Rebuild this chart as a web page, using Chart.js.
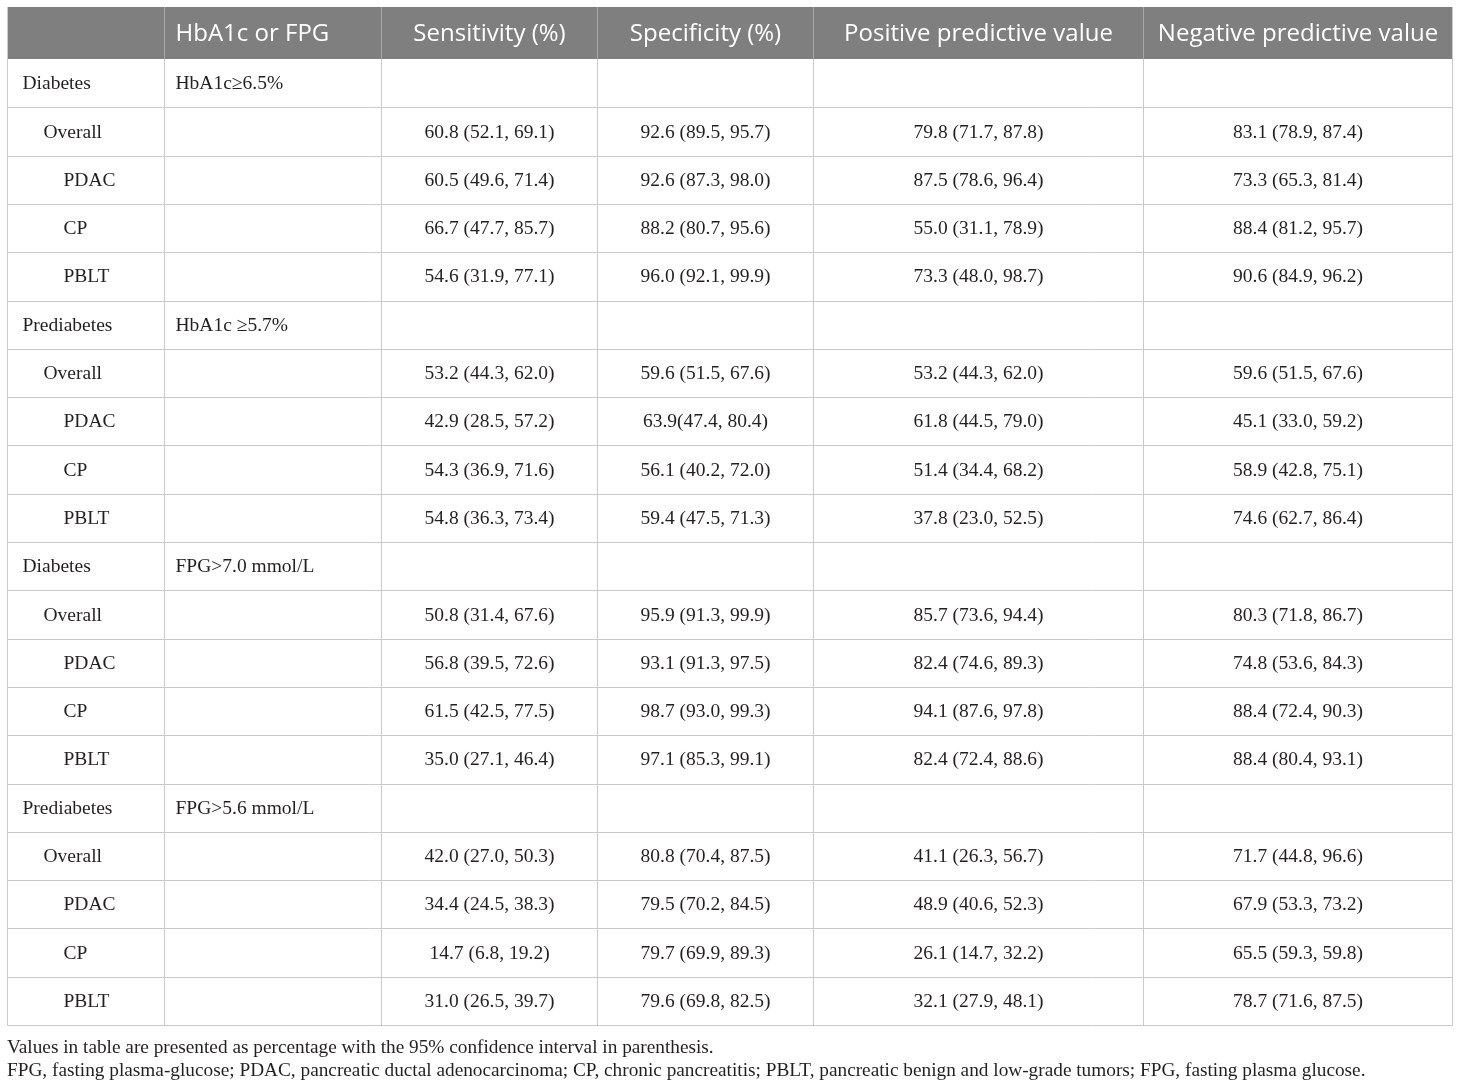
<!DOCTYPE html>
<html>
<head>
<meta charset="utf-8">
<script src="https://cdn.jsdelivr.net/npm/chart.js@4.4.0/dist/chart.umd.min.js"></script>
<style>
  html, body { margin: 0; padding: 0; background: #fff; }
  canvas { display: block; }
</style>
</head>
<body>
<canvas id="tbl" width="1460" height="1087"></canvas>
<script>
// table content
const headers = ["", "HbA1c or FPG", "Sensitivity (%)", "Specificity (%)", "Positive predictive value", "Negative predictive value"];
const groups = ["Diabetes", "Prediabetes", "Diabetes", "Prediabetes"];
const criteria = ["HbA1c\u22656.5%", "HbA1c \u22655.7%", "FPG>7.0 mmol/L", "FPG>5.6 mmol/L"];
const subgroups = ["Overall", "PDAC", "CP", "PBLT"];

const sensitivity = [
  "60.8 (52.1, 69.1)", "60.5 (49.6, 71.4)", "66.7 (47.7, 85.7)", "54.6 (31.9, 77.1)",
  "53.2 (44.3, 62.0)", "42.9 (28.5, 57.2)", "54.3 (36.9, 71.6)", "54.8 (36.3, 73.4)",
  "50.8 (31.4, 67.6)", "56.8 (39.5, 72.6)", "61.5 (42.5, 77.5)", "35.0 (27.1, 46.4)",
  "42.0 (27.0, 50.3)", "34.4 (24.5, 38.3)", "14.7 (6.8, 19.2)", "31.0 (26.5, 39.7)"
];
const specificity = [
  "92.6 (89.5, 95.7)", "92.6 (87.3, 98.0)", "88.2 (80.7, 95.6)", "96.0 (92.1, 99.9)",
  "59.6 (51.5, 67.6)", "63.9(47.4, 80.4)", "56.1 (40.2, 72.0)", "59.4 (47.5, 71.3)",
  "95.9 (91.3, 99.9)", "93.1 (91.3, 97.5)", "98.7 (93.0, 99.3)", "97.1 (85.3, 99.1)",
  "80.8 (70.4, 87.5)", "79.5 (70.2, 84.5)", "79.7 (69.9, 89.3)", "79.6 (69.8, 82.5)"
];
const ppv = [
  "79.8 (71.7, 87.8)", "87.5 (78.6, 96.4)", "55.0 (31.1, 78.9)", "73.3 (48.0, 98.7)",
  "53.2 (44.3, 62.0)", "61.8 (44.5, 79.0)", "51.4 (34.4, 68.2)", "37.8 (23.0, 52.5)",
  "85.7 (73.6, 94.4)", "82.4 (74.6, 89.3)", "94.1 (87.6, 97.8)", "82.4 (72.4, 88.6)",
  "41.1 (26.3, 56.7)", "48.9 (40.6, 52.3)", "26.1 (14.7, 32.2)", "32.1 (27.9, 48.1)"
];
const npv = [
  "83.1 (78.9, 87.4)", "73.3 (65.3, 81.4)", "88.4 (81.2, 95.7)", "90.6 (84.9, 96.2)",
  "59.6 (51.5, 67.6)", "45.1 (33.0, 59.2)", "58.9 (42.8, 75.1)", "74.6 (62.7, 86.4)",
  "80.3 (71.8, 86.7)", "74.8 (53.6, 84.3)", "88.4 (72.4, 90.3)", "88.4 (80.4, 93.1)",
  "71.7 (44.8, 96.6)", "67.9 (53.3, 73.2)", "65.5 (59.3, 59.8)", "78.7 (71.6, 87.5)"
];
const footnotes = [
  "Values in table are presented as percentage with the 95% confidence interval in parenthesis.",
  "FPG, fasting plasma-glucose; PDAC, pancreatic ductal adenocarcinoma; CP, chronic pancreatitis; PBLT, pancreatic benign and low-grade tumors; FPG, fasting plasma glucose."
];

// layout (table units along x, px otherwise)
const TABLE_W = 1445;
const colEdges = [0, 157, 374, 590, 806, 1136, 1445];
const HEADER_H = 52;
const indent = [15, 36, 56];
const SERIF = "'Liberation Serif', 'DejaVu Serif', serif";
const SANS = "'Open Sans', 'Noto Sans', sans-serif";

// rows: group line then its four subgroups
const rows = [];
groups.forEach((g, gi) => {
  rows.push({ label: g, level: 0, crit: criteria[gi], cells: ["", "", "", ""] });
  subgroups.forEach((s, si) => {
    const k = gi * 4 + si;
    rows.push({ label: s, level: si === 0 ? 1 : 2, crit: "",
      cells: [sensitivity[k], specificity[k], ppv[k], npv[k]] });
  });
});

const tablePlugin = {
  id: "tablePlugin",
  afterDraw(chart) {
    const { ctx, chartArea: a, scales: { x, y } } = chart;
    const step = y.getPixelForValue(1) - y.getPixelForValue(0);
    const ex = colEdges.map(v => Math.round(x.getPixelForValue(v)) + 0.5);
    const top = a.top - HEADER_H;
    const bottom = Math.round(y.getPixelForValue(rows.length - 1) + step / 2) + 0.5;

    ctx.save();
    // header band
    ctx.fillStyle = "#7f7f7f";
    ctx.fillRect(ex[0] - 0.5, top, ex[6] - ex[0] + 1, HEADER_H);
    ctx.strokeStyle = "#a6a6a6";
    ctx.lineWidth = 1;
    for (let c = 1; c < 6; c++) {
      ctx.beginPath(); ctx.moveTo(ex[c], top); ctx.lineTo(ex[c], a.top); ctx.stroke();
    }
    ctx.fillStyle = "#ffffff";
    ctx.font = "24px " + SANS;
    ctx.textBaseline = "middle";
    const hy = top + HEADER_H / 2 + 1;
    headers.forEach((h, c) => {
      if (!h) return;
      if (c === 1) { ctx.textAlign = "left"; ctx.fillText(h, ex[1] + 11, hy); }
      else { ctx.textAlign = "center"; ctx.fillText(h, (ex[c] + ex[c + 1]) / 2, hy); }
    });

    // grid
    ctx.strokeStyle = "#c9c9c9";
    rows.forEach((r, i) => {
      const yb = Math.round(y.getPixelForValue(i) + step / 2) + 0.5;
      ctx.beginPath(); ctx.moveTo(ex[0], yb); ctx.lineTo(ex[6], yb); ctx.stroke();
    });
    ex.forEach(xe => {
      ctx.beginPath(); ctx.moveTo(xe, a.top); ctx.lineTo(xe, bottom); ctx.stroke();
    });
    ctx.beginPath(); ctx.moveTo(ex[0], top); ctx.lineTo(ex[0], a.top); ctx.stroke();
    ctx.beginPath(); ctx.moveTo(ex[6], top); ctx.lineTo(ex[6], a.top); ctx.stroke();

    // cell text
    ctx.fillStyle = "#231f20";
    ctx.font = "19.5px " + SERIF;
    rows.forEach((r, i) => {
      const cy = y.getPixelForValue(i) + 1;
      ctx.textAlign = "left";
      ctx.fillText(r.label, ex[0] + indent[r.level], cy);
      if (r.crit) ctx.fillText(r.crit, ex[1] + 11, cy);
      ctx.textAlign = "center";
      r.cells.forEach((v, c) => {
        if (v) ctx.fillText(v, (ex[c + 2] + ex[c + 3]) / 2, cy);
      });
    });

    // footnotes
    ctx.textAlign = "left";
    ctx.font = "19.3px " + SERIF;
    footnotes.forEach((t, i) => ctx.fillText(t, ex[0] - 0.5, bottom + 22 + i * 23));
    ctx.restore();
  }
};

new Chart(document.getElementById("tbl"), {
  type: "bar",
  data: {
    labels: rows.map((r, i) => String(i)),
    datasets: []
  },
  options: {
    indexAxis: "y",
    responsive: false,
    animation: false,
    devicePixelRatio: 1,
    layout: { padding: { left: 7, right: 8, top: 59, bottom: 62 } },
    plugins: { legend: { display: false }, tooltip: { enabled: false } },
    scales: {
      x: { type: "linear", min: 0, max: TABLE_W, display: false },
      y: { type: "category", offset: true, display: false }
    }
  },
  plugins: [tablePlugin]
});
</script>
</body>
</html>
